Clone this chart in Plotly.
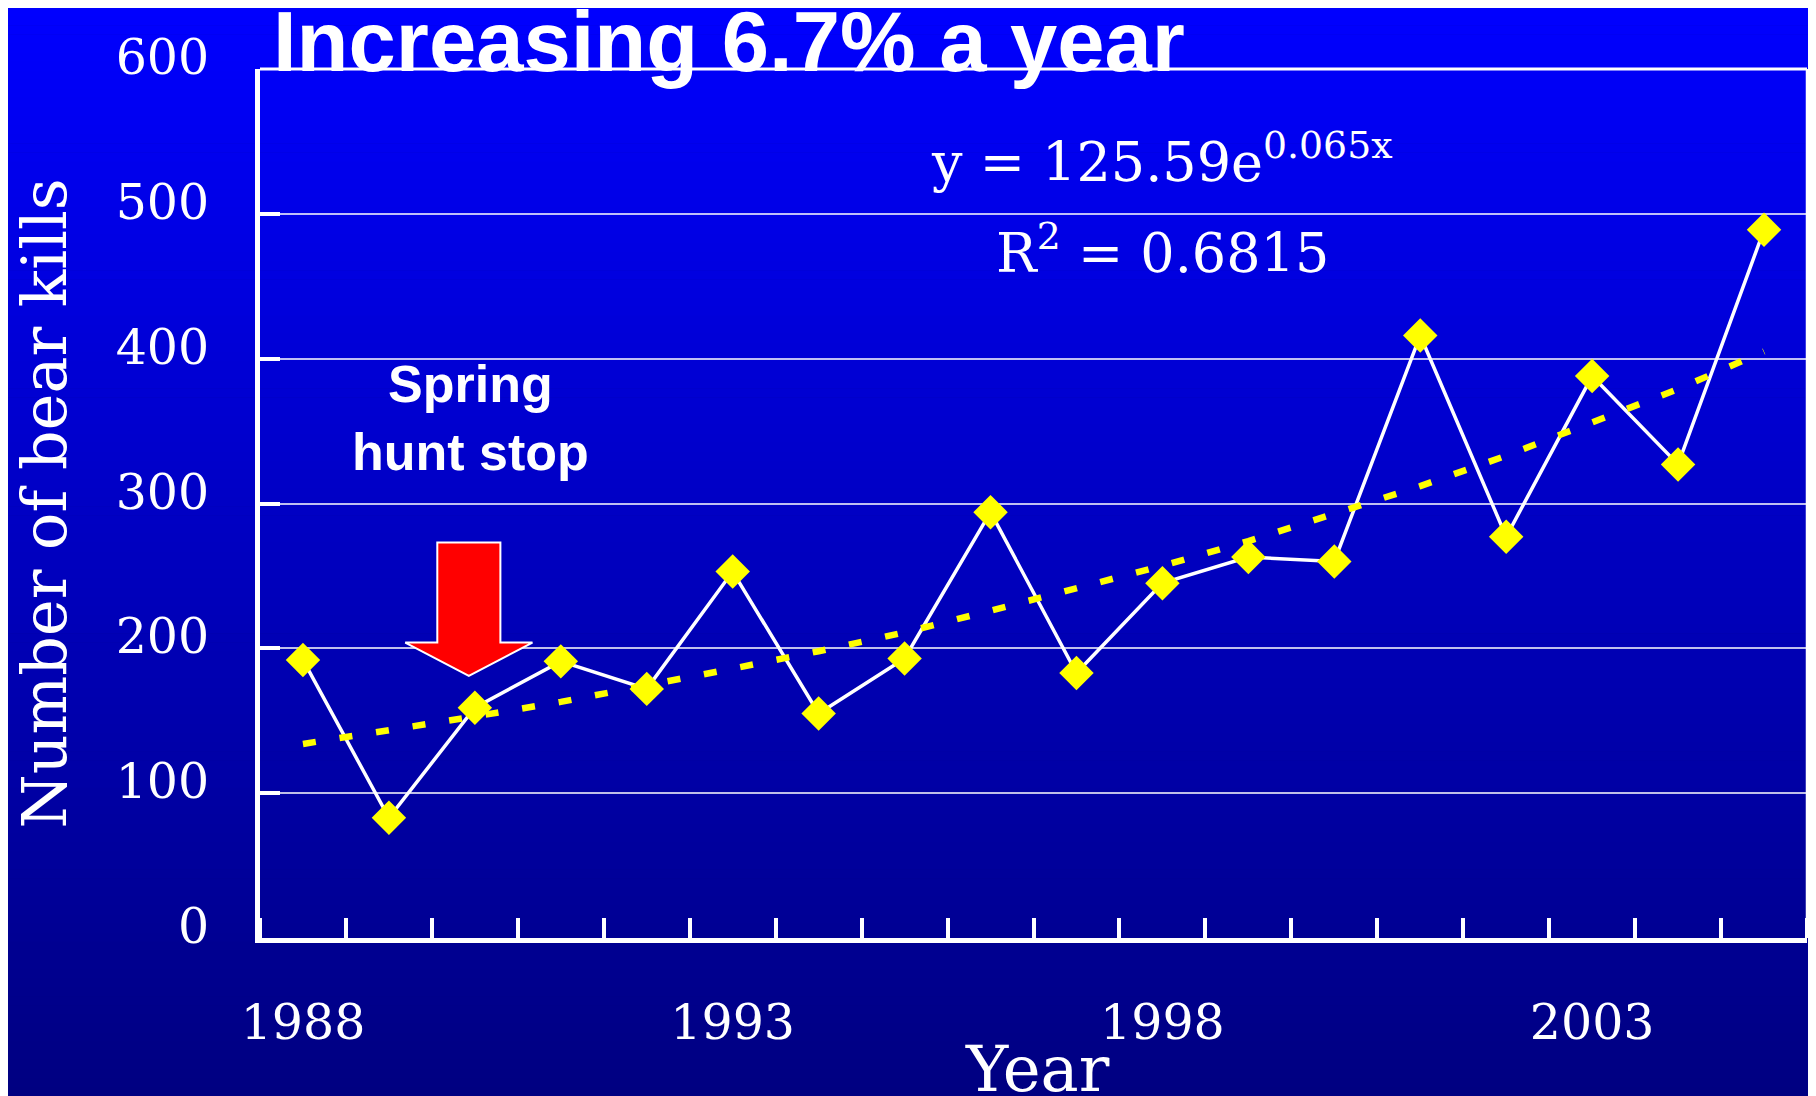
import plotly.graph_objects as go

# ---------------- data ----------------
years = list(range(1988, 2006))
bear_kills = [192, 83, 159, 191, 172, 253, 155, 193, 294, 183,
              245, 263, 260, 416, 277, 388, 327, 489]
trend_values = [134, 143, 153, 163, 174, 186, 198, 211, 226, 241,
                257, 274, 293, 312, 333, 356, 379, 405]
y_tick_values = [0, 100, 200, 300, 400, 500, 600]
x_label_years = [1988, 1993, 1998, 2003]
x_label_text = ["1988", "1993", "1998", "2003"]

title_text = "Increasing 6.7% a year"
equation_text = "y = 125.59e<sup>0.065x</sup>"
r2_text = "R<sup>2</sup> = 0.6815"
note_text = "Spring<br>hunt stop"
x_title = "Year"
y_title = "Number of bear kills"

# arrow (annotation graphic) in data units
arrow_year = 1989.93
arrow_top, arrow_neck, arrow_tip = 273, 204, 181
arrow_shaft_half, arrow_head_half = 0.367, 0.74

# ---------------- layout geometry ----------------
# The page places the figure 8 px in from the top-left corner,
# so the figure is 8 px smaller and all reference pixel positions shift by 8.
OFF = 8
W, H = 1816 - OFF, 1096 - OFF
# plot-area edges in reference-screen pixels
L, R, T, B = 260, 1807, 69, 938


def px_x(px):
    return (px - L) / (R - L)


def px_y(py):
    return (B - py) / (B - T)


SERIF = "DejaVu Serif, Liberation Serif, serif"
SANS = "Liberation Sans, Arial, sans-serif"

# background gradient strips (bright blue at top -> navy at bottom)
shapes = []
n_strips = 120
top_band = 7
SH = 1096
for i in range(n_strips):
    y0 = top_band + (SH - top_band) * i / n_strips
    y1 = top_band + (SH - top_band) * (i + 1) / n_strips
    t = (i + 0.5) / n_strips
    b = round(255 - (255 - 128) * t)
    shapes.append(dict(type="rect", xref="paper", yref="paper",
                       x0=px_x(-20), x1=px_x(1840),
                       y0=px_y(y1 + 0.6), y1=px_y(y0),
                       fillcolor=f"rgb(0,0,{b})", line_width=0, layer="below"))

# top and right frame lines
shapes.append(dict(type="line", xref="paper", yref="paper", x0=0, x1=1, y0=1, y1=1,
                   line=dict(color="white", width=3)))
shapes.append(dict(type="line", xref="paper", yref="paper", x0=1, x1=1, y0=0, y1=1,
                   line=dict(color="white", width=2.5)))

# block arrow
ax_, sw, hw = arrow_year, arrow_shaft_half, arrow_head_half
arrow_path = (f"M {ax_-sw},{arrow_top} L {ax_+sw},{arrow_top} L {ax_+sw},{arrow_neck} "
              f"L {ax_+hw},{arrow_neck} L {ax_},{arrow_tip} L {ax_-hw},{arrow_neck} "
              f"L {ax_-sw},{arrow_neck} Z")
shapes.append(dict(type="path", xref="x", yref="y", path=arrow_path,
                   fillcolor="#FF0000", line=dict(color="white", width=2)))

fig = go.Figure()
fig.add_trace(go.Scatter(
    x=years, y=bear_kills, mode="lines+markers", name="Bear kills",
    line=dict(color="white", width=3.5),
    marker=dict(symbol="diamond", size=26.5, color="#FFFF00", line=dict(width=0)),
))
fig.add_trace(go.Scatter(
    x=years, y=trend_values, mode="lines", name="Trend",
    line=dict(color="#FFFF00", width=6.5, dash="13px,24px"),
))

annotations = [
    dict(text=title_text, xref="paper", yref="paper", x=px_x(271), y=px_y(91),
         xanchor="left", yanchor="bottom", showarrow=False,
         font=dict(family=SANS, size=85, color="white", weight="bold")),
    dict(text=note_text, xref="paper", yref="paper", x=px_x(470), y=px_y(353),
         xanchor="center", yanchor="top", showarrow=False, align="center",
         font=dict(family=SANS, size=52, color="white", weight="bold")),
    dict(text=equation_text, xref="paper", yref="paper", x=px_x(1162), y=px_y(196),
         xanchor="center", yanchor="bottom", showarrow=False,
         font=dict(family=SERIF, size=54, color="white")),
    dict(text=r2_text, xref="paper", yref="paper", x=px_x(1162), y=px_y(287),
         xanchor="center", yanchor="bottom", showarrow=False,
         font=dict(family=SERIF, size=54, color="white")),
    dict(text=x_title, xref="paper", yref="paper", x=px_x(1037), y=px_y(1108),
         xanchor="center", yanchor="bottom", showarrow=False,
         font=dict(family=SERIF, size=64, color="white")),
]

fig.update_layout(
    width=W, height=H,
    margin=dict(l=L - OFF, r=1816 - R, t=T - OFF, b=1096 - B, pad=0),
    paper_bgcolor="#000080",
    plot_bgcolor="rgba(0,0,0,0)",
    showlegend=False,
    hovermode=False,
    shapes=shapes,
    annotations=annotations,
    xaxis=dict(
        range=[1987.5, 2005.5], tickmode="array", tickvals=x_label_years,
        ticktext=x_label_text, ticks="outside", ticklen=37,
        tickcolor="rgba(0,0,0,0)", showline=True, linecolor="white", linewidth=5,
        showgrid=False, zeroline=False, fixedrange=True,
        tickfont=dict(family=SERIF, size=49, color="white"),
        minor=dict(tick0=1987.5, dtick=1, ticks="inside", ticklen=20,
                   tickwidth=4, tickcolor="white", showgrid=False),
    ),
    yaxis=dict(
        range=[0, 600], tickmode="array", tickvals=y_tick_values,
        ticks="inside", ticklen=20, tickwidth=4, tickcolor="white",
        showline=True, linecolor="white", linewidth=5,
        showgrid=True, gridcolor="rgba(255,255,255,0.75)", gridwidth=1.5,
        zeroline=False, fixedrange=True,
        tickfont=dict(family=SERIF, size=49, color="white"),
        ticklabelstandoff=36, ticklabelshift=-12,
        title=dict(text=y_title, standoff=34,
                   font=dict(family=SERIF, size=62, color="white")),
    ),
)

fig.write_html("out.html")
